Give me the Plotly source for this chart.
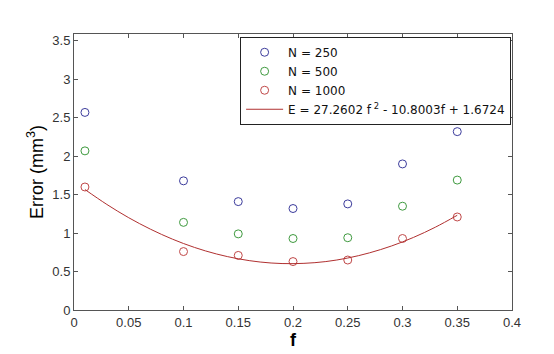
import plotly.graph_objects as go

f_vals = [0.01, 0.10, 0.15, 0.20, 0.25, 0.30, 0.35]
err_250 = [2.57, 1.68, 1.41, 1.32, 1.38, 1.90, 2.32]
err_500 = [2.07, 1.14, 0.99, 0.93, 0.94, 1.35, 1.69]
err_1000 = [1.60, 0.76, 0.71, 0.63, 0.65, 0.93, 1.21]

# fitted curve
fit_f = [0.01, 0.03, 0.05, 0.07, 0.09, 0.11, 0.13, 0.15, 0.17, 0.19,
         0.21, 0.23, 0.25, 0.27, 0.29, 0.31, 0.33, 0.35]
fit_e = [1.567, 1.373, 1.200, 1.050, 0.921, 0.814, 0.729, 0.666, 0.624, 0.604,
         0.607, 0.630, 0.676, 0.744, 0.833, 0.944, 1.077, 1.232]

x_ticks = [0, 0.05, 0.1, 0.15, 0.2, 0.25, 0.3, 0.35, 0.4]
y_ticks = [0, 0.5, 1, 1.5, 2, 2.5, 3, 3.5]

fig = go.Figure()
marker_common = dict(symbol="circle-open", size=8, line=dict(width=1))
fig.add_trace(go.Scatter(x=f_vals, y=err_250, mode="markers", name="N = 250",
                         marker=dict(color="#3c3c9c", **marker_common)))
fig.add_trace(go.Scatter(x=f_vals, y=err_500, mode="markers", name="N = 500",
                         marker=dict(color="#3f9a3f", **marker_common)))
fig.add_trace(go.Scatter(x=f_vals, y=err_1000, mode="markers", name="N = 1000",
                         marker=dict(color="#c04848", **marker_common)))
fig.add_trace(go.Scatter(x=fit_f, y=fit_e, mode="lines", line_shape="spline",
                         name="E = 27.2602 f<sup> 2</sup> - 10.8003f + 1.6724",
                         line=dict(color="#b03030", width=1)))

axis_common = dict(showgrid=False, zeroline=False, showline=True, mirror="ticks",
                   linecolor="#555555", linewidth=1, ticks="inside", ticklen=4,
                   tickcolor="#555555", tickfont=dict(family="Liberation Sans", size=13, color="#333333"))

fig.update_layout(
    width=554, height=354,
    margin=dict(l=74, r=42, t=34, b=44),
    paper_bgcolor="white", plot_bgcolor="white",
    showlegend=True,
    legend=dict(x=0.998, y=0.99, xanchor="right", yanchor="top",
                bordercolor="#222222", borderwidth=1, bgcolor="white",
                font=dict(family="DejaVu Sans", size=12, color="#111111"),
                tracegroupgap=0, itemwidth=37),
    xaxis=dict(range=[0, 0.4], tickvals=x_ticks,
               ticktext=["0", "0.05", "0.1", "0.15", "0.2", "0.25", "0.3", "0.35", "0.4"],
               title=dict(text="<b>f</b>", font=dict(family="Liberation Sans", size=18, color="black"),
                          standoff=0),
               **axis_common),
    yaxis=dict(range=[0, 3.59], tickvals=y_ticks,
               ticktext=["0", "0.5", "1", "1.5", "2", "2.5", "3", "3.5"],
               title=dict(text="Error (mm<sup>3</sup>)", font=dict(family="Liberation Sans", size=18, color="black"),
                          standoff=4),
               **axis_common),
)

fig.write_html("out.html")
